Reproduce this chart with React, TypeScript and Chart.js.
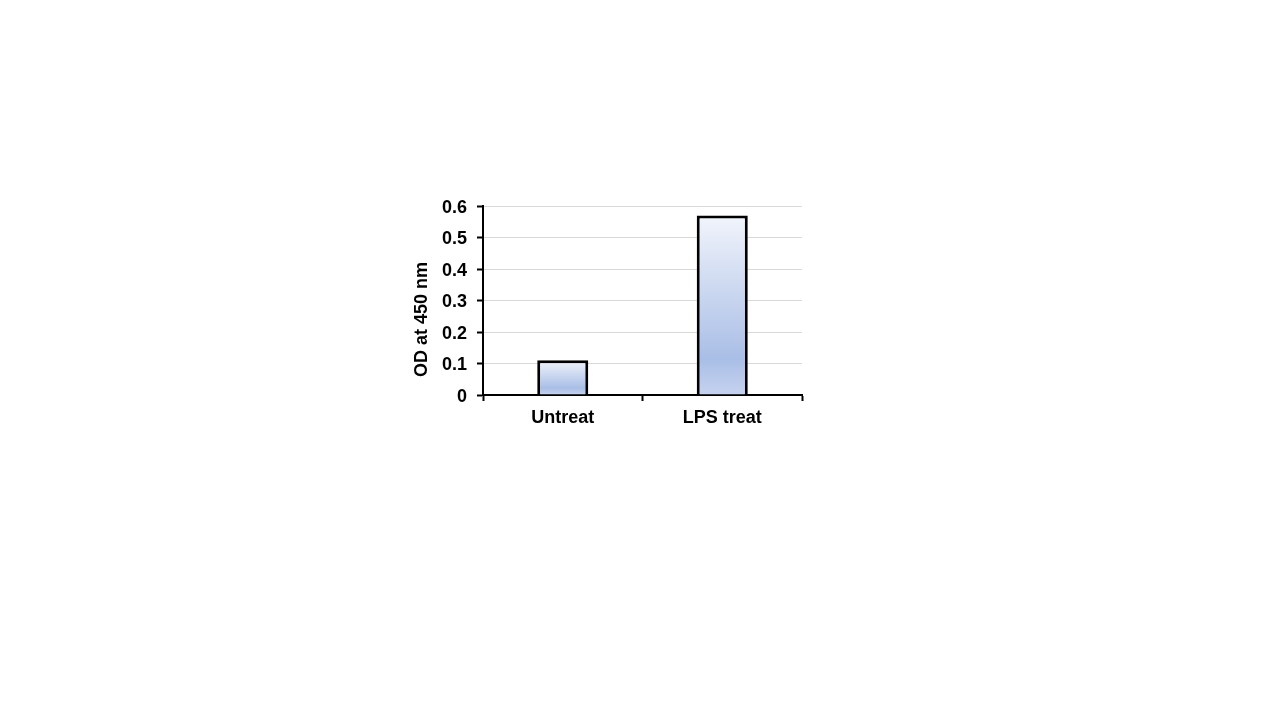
import React, { useEffect, useRef } from 'react';
import Chart from 'chart.js/auto';

const categories = ['Untreat', 'LPS treat'];
const odValues = [0.11, 0.57];
const yTicks = [0, 0.1, 0.2, 0.3, 0.4, 0.5, 0.6];
const yTitle = 'OD at 450 nm';

const FONT = '"Liberation Sans", Arial, sans-serif';

// draws the rotated y title a little below the axis centre, as in the source
const yTitlePlugin = {
  id: 'yTitle',
  afterDraw(chart: any) {
    const { ctx, chartArea, scales } = chart;
    ctx.save();
    ctx.translate(scales.y.left + 17, (chartArea.top + chartArea.bottom) / 2 + 19);
    ctx.rotate(-Math.PI / 2);
    ctx.font = `bold 18px ${FONT}`;
    ctx.fillStyle = '#000';
    ctx.textAlign = 'center';
    ctx.textBaseline = 'middle';
    ctx.fillText(yTitle, 0, 0);
    ctx.restore();
  },
};

const App: React.FC = () => {
  const canvasRef = useRef<HTMLCanvasElement>(null);
  const chartRef = useRef<Chart | null>(null);

  useEffect(() => {
    if (!canvasRef.current) return;
    if (chartRef.current) chartRef.current.destroy();

    chartRef.current = new Chart(canvasRef.current, {
      type: 'bar',
      data: {
        labels: categories,
        datasets: [
          {
            data: odValues,
            backgroundColor: (c: any) => {
              const chart = c.chart;
              const y = chart.scales?.y;
              if (!y || !c.parsed) return '#b8c8ea';
              const top = y.getPixelForValue(c.parsed.y);
              const bottom = y.getPixelForValue(0);
              if (!Number.isFinite(top) || !Number.isFinite(bottom) || top === bottom) return '#b8c8ea';
              const g = chart.ctx.createLinearGradient(0, top, 0, bottom);
              g.addColorStop(0, '#f1f4fb');
              g.addColorStop(0.8, '#a9bee6');
              g.addColorStop(1, '#c6d3ef');
              return g;
            },
            borderColor: '#000',
            borderWidth: 3,
            barPercentage: 0.32,
            categoryPercentage: 1,
          },
        ],
      },
      options: {
        responsive: false,
        animation: false,
        layout: { padding: { left: 405, right: 478, top: 206, bottom: 285 } },
        plugins: {
          legend: { display: false },
          tooltip: { enabled: false },
        },
        scales: {
          x: {
            afterFit: (s: any) => {
              s.height = 40;
            },
            grid: {
              display: true,
              drawOnChartArea: false,
              offset: true,
              tickLength: 6,
              tickColor: '#000',
              tickWidth: 2,
            },
            border: { color: '#000', width: 2 },
            ticks: {
              color: '#000',
              padding: 6,
              font: { family: FONT, size: 18, weight: 'bold' },
            },
          },
          y: {
            min: 0,
            max: 0.6,
            afterFit: (s: any) => {
              s.width = 78;
            },
            afterBuildTicks: (s: any) => {
              s.ticks = yTicks.map((v) => ({ value: v }));
            },
            grid: {
              color: '#d9d9d9',
              lineWidth: 1,
              tickLength: 6,
              tickColor: '#000',
              tickWidth: 2,
            },
            border: { color: '#000', width: 2 },
            ticks: {
              color: '#000',
              padding: 10,
              labelOffset: 2,
              font: { family: FONT, size: 18, weight: 'bold' },
            },
          },
        },
      },
      plugins: [yTitlePlugin],
    });

    return () => {
      if (chartRef.current) {
        chartRef.current.destroy();
        chartRef.current = null;
      }
    };
  }, []);

  return (
    <div style={{ position: 'absolute', left: 0, top: 0, width: 1280, height: 720, background: '#fff' }}>
      <canvas ref={canvasRef} width={1280} height={720}></canvas>
    </div>
  );
};

export default App;
